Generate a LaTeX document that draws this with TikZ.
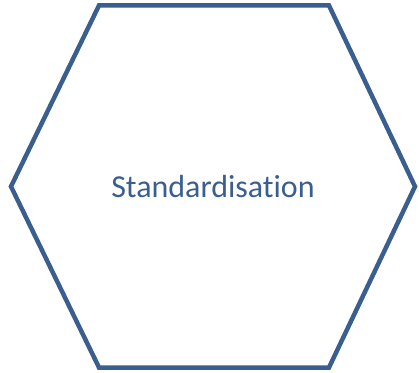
\documentclass[tikz,border=0pt]{standalone}
\usepackage{fontspec}
\setmainfont{Carlito}[Ligatures={NoCommon}]
\usepackage{xcolor}
\usepackage{tikz}
\definecolor{hexblue}{HTML}{3A5F8F}

\begin{document}
\begin{tikzpicture}[x=1pt,y=1pt]
                \useasboundingbox (0,0) rectangle (419,372);
                \pgfmathsetmacro{\hexw}{4.5}

                % corners of the hexagon
                \coordinate (tl) at (99,366.5);
                \coordinate (tr) at (329,366.5);
                \coordinate (r) at (415,185.5);
                \coordinate (br) at (329,4.5);
                \coordinate (bl) at (99,4.5);
                \coordinate (l) at (11,185.5);

                % outline
                \draw[hexblue,line width=\hexw pt,line join=miter] (tl) -- (tr) -- (r) -- (br) -- (bl) -- (l) -- cycle;

                % label
                \node[hexblue,anchor=base,inner sep=0pt,font=\fontsize{32}{38}\selectfont] (label) at (213,175) {Standardisation};
            \end{tikzpicture}
\end{document}
